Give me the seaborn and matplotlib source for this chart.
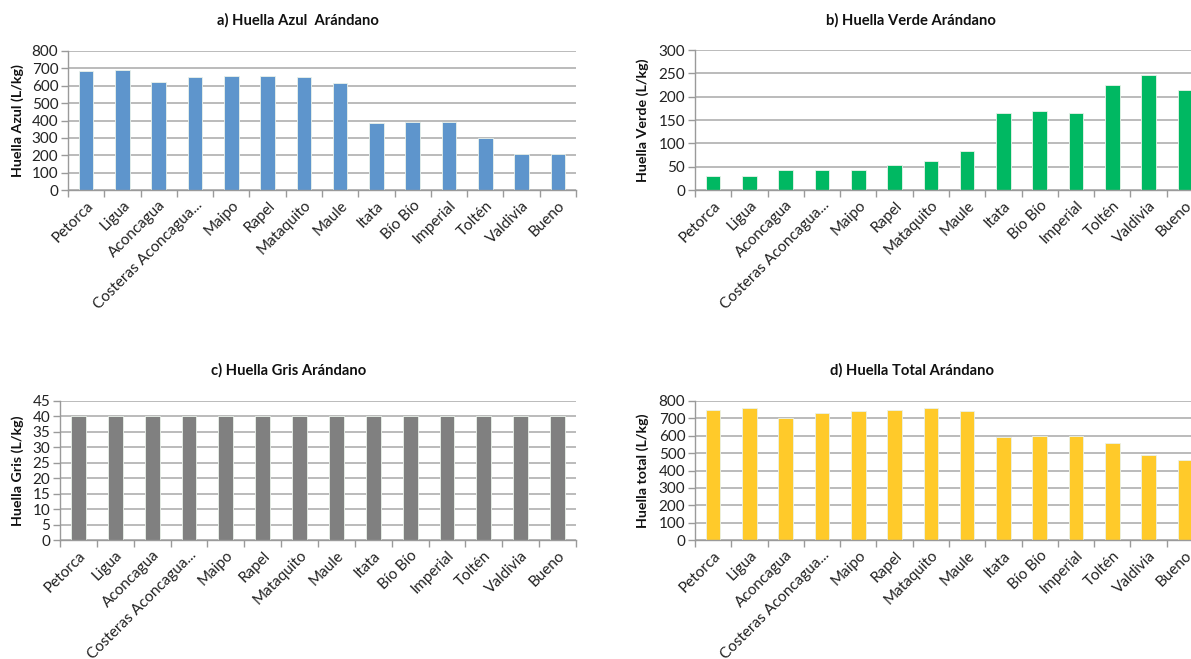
import numpy as np
import pandas as pd
import matplotlib
matplotlib.use("Agg")
import matplotlib.pyplot as plt
import seaborn as sns

# Cuencas (eje x, igual en los cuatro paneles)
cuencas = ["Petorca", "Ligua", "Aconcagua", "Costeras Aconcagua...", "Maipo", "Rapel",
           "Mataquito", "Maule", "Itata", "Bío Bío", "Imperial", "Toltén", "Valdivia", "Bueno"]

# Valores (L/kg)
huella_azul = [683, 689, 620, 649, 658, 655, 653, 618, 385, 391, 393, 300, 206, 208]
huella_verde = [29, 29, 43, 43, 42, 53, 63, 84, 166, 170, 164, 224, 246, 215]
huella_gris = [40, 40, 40, 40, 40, 40, 40, 40, 40, 40, 40, 40, 40, 40]
huella_total = [750, 758, 703, 729, 741, 746, 758, 743, 592, 601, 600, 561, 491, 462]

sns.set_theme(style="white")
plt.rcParams["font.family"] = ["Lato", "DejaVu Sans"]

W, H = 1191, 659
fig = plt.figure(figsize=(W / 100, H / 100), dpi=100)


def px_axes(left, top, right, bottom):
    return fig.add_axes([left / W, 1 - bottom / H, (right - left) / W, (bottom - top) / H])


paneles = [
    # datos, color, titulo, ylabel, ymax, paso, caja en px, titulo x/y, ylabel x
    (huella_azul, "#5E95CC", "a) Huella Azul  Arándano", "Huella Azul (L/kg)", 800, 100,
     (68, 51, 576, 190), (298, 20), 18),
    (huella_verde, "#00B862", "b) Huella Verde Arándano", "Huella Verde (L/kg)", 300, 50,
     (695, 50, 1203, 190), (911, 20), 643),
    (huella_gris, "#808080", "c) Huella Gris Arándano", "Huella Gris (L/kg)", 45, 5,
     (60, 401, 576, 540), (289, 370), 18),
    (huella_total, "#FFCA2A", "d) Huella Total Arándano", "Huella total (L/kg)", 800, 100,
     (695, 401, 1203, 540), (912, 370), 643),
]

gris = "#9A9A9A"
for datos, color, titulo, ylab, ymax, paso, caja, tpos, ylx in paneles:
    ax = px_axes(*caja)
    df = pd.DataFrame({"cuenca": cuencas, "valor": datos})
    sns.barplot(data=df, x="cuenca", y="valor", color=color, width=0.4,
                edgecolor="#EAF2EA", linewidth=0.6, saturation=1, ax=ax)
    ax.set_xlim(-0.5, len(cuencas) - 0.5)
    ax.set_ylim(0, ymax)
    ax.set_yticks(np.arange(0, ymax + paso / 2, paso))
    ax.yaxis.grid(True, color="#A8A8A8", linewidth=1.1)
    ax.set_axisbelow(True)
    for s in ["top", "right"]:
        ax.spines[s].set_visible(False)
    for s in ["left", "bottom"]:
        ax.spines[s].set_color(gris)
        ax.spines[s].set_linewidth(1.0)
    ax.set_xticks(np.arange(-0.5, len(cuencas), 1), minor=True)
    ax.tick_params(axis="x", which="major", length=0, pad=6)
    ax.tick_params(axis="x", which="minor", length=5, color=gris, width=1, direction="out", bottom=True)
    ax.tick_params(axis="y", length=5, color=gris, width=1, direction="out", left=True,
                   labelsize=11, labelcolor="#222222", pad=2)
    ax.set_xticks(range(len(cuencas)))
    ax.set_xticklabels(cuencas, rotation=45, ha="right", rotation_mode="anchor",
                       fontsize=11, color="#222222")
    ax.set_xlabel("")
    ax.set_ylabel("")
    fig.text(ylx / W, 1 - (caja[1] + caja[3]) / 2 / H, ylab, rotation=90, ha="center", va="center",
             fontsize=10.3, fontweight="bold", color="#111111")
    fig.text(tpos[0] / W, 1 - tpos[1] / H, titulo, ha="center", va="center",
             fontsize=10.6, fontweight="bold", color="#111111")

fig.savefig("out.png", dpi=100)
